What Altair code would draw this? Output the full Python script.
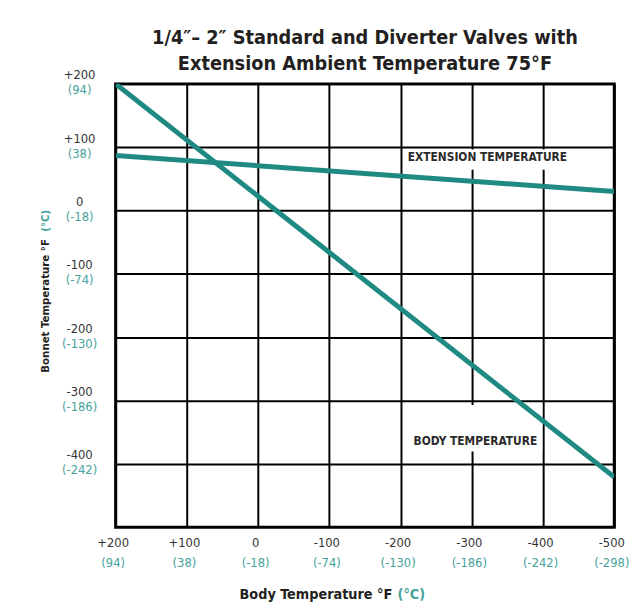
import altair as alt
import pandas as pd

# ---------------- data ----------------
x_ticks = [200, 100, 0, -100, -200, -300, -400, -500]
x_f_labels = ["+200", "+100", "0", "-100", "-200", "-300", "-400", "-500"]
x_c_labels = ["(94)", "(38)", "(-18)", "(-74)", "(-130)", "(-186)", "(-242)", "(-298)"]

y_ticks = [200, 100, 0, -100, -200, -300, -400]
y_f_labels = ["+200", "+100", "0", "-100", "-200", "-300", "-400"]
y_c_labels = ["(94)", "(38)", "(-18)", "(-74)", "(-130)", "(-186)", "(-242)"]

series_names = ["EXTENSION TEMPERATURE", "BODY TEMPERATURE"]
ext_body_x = [200, -500]
ext_bonnet_y = [87, 30]
body_body_x = [200, -500]
body_bonnet_y = [200, -421]

label_x = [-322, -305]
label_y = [84, -364]

title_lines = ["1/4\u2033\u2013 2\u2033 Standard and Diverter Valves with",
               "Extension Ambient Temperature 75\u00b0F"]

# ---------------- styling ----------------
FONT = "'DejaVu Sans Condensed', 'Liberation Sans Narrow', sans-serif"
TEAL = "#1f8a82"
TEAL_L = "#45a29b"
DARK = "#231f20"

lines_df = pd.DataFrame({
    "series": [series_names[0]] * len(ext_body_x) + [series_names[1]] * len(body_body_x),
    "body": ext_body_x + body_body_x,
    "bonnet": ext_bonnet_y + body_bonnet_y,
})
labels_df = pd.DataFrame({"text": series_names, "x": label_x, "y": label_y})

xscale = alt.Scale(domain=[200, -500], nice=False, zero=False)
yscale = alt.Scale(domain=[-500, 200], nice=False, zero=False)


def expr(labels, ticks):
    return f"{labels}[indexof({ticks}, datum.value)]"


common = dict(domain=False, ticks=False, labelFont=FONT, labelFontSize=13,
              labelOverlap=False, labelFlush=False, titleFont=FONT,
              titleFontWeight="bold")

x_axis_f = alt.Axis(orient="bottom", values=x_ticks, labelExpr=expr(x_f_labels, x_ticks),
                    grid=True, gridColor="black", gridWidth=2, gridOpacity=1,
                    labelColor="#333333", labelPadding=10, labelOffset=-3,
                    title="Body Temperature \u00b0F", titleFontSize=14.5, titleColor=DARK,
                    titleAlign="left", titleX=125, titleY=72, titleBaseline="alphabetic",
                    **common)
x_axis_c = alt.Axis(orient="bottom", values=x_ticks, labelExpr=expr(x_c_labels, x_ticks),
                    grid=False, labelColor=TEAL_L, labelPadding=30, labelOffset=-3,
                    title="(\u00b0C)", titleFontSize=14.5, titleColor=TEAL_L,
                    titleAlign="right", titleX=313, titleY=72, titleBaseline="alphabetic",
                    **common)
y_axis_f = alt.Axis(orient="left", values=y_ticks, labelExpr=expr(y_f_labels, y_ticks),
                    grid=True, gridColor="black", gridWidth=2, gridOpacity=1,
                    labelColor="#333333", labelPadding=37, labelAlign="center",
                    labelBaseline="middle", labelOffset=-9,
                    title="Bonnet Temperature \u00b0F", titleFontSize=11.5, titleColor=DARK,
                    titleAngle=270, titleAlign="left", titleX=-71, titleY=292,
                    titleBaseline="middle", **common)
y_axis_c = alt.Axis(orient="left", values=y_ticks, labelExpr=expr(y_c_labels, y_ticks),
                    grid=False, labelColor=TEAL_L, labelPadding=37, labelAlign="center",
                    labelBaseline="middle", labelOffset=6,
                    title="(\u00b0C)", titleFontSize=11.5, titleColor=TEAL_L,
                    titleAngle=270, titleAlign="right", titleX=-71, titleY=127,
                    titleBaseline="middle", **common)

# white boxes behind the line labels
box_ext = alt.Chart(labels_df.iloc[[0]]).mark_point(
    shape="M-0.98,-0.095L1.02,-0.095L1.02,0.15L-0.98,0.15Z",
    size=168 ** 2, filled=True, fill="white", opacity=1, strokeWidth=0,
).encode(
    x=alt.X("x:Q", scale=xscale, axis=x_axis_c),
    y=alt.Y("y:Q", scale=yscale, axis=y_axis_c),
)
box_body = alt.Chart(labels_df.iloc[[1]]).mark_point(
    shape="M-0.98,-0.55L1.02,-0.55L1.02,0.16L-0.98,0.16Z",
    size=133 ** 2, filled=True, fill="white", opacity=1, strokeWidth=0,
).encode(
    x=alt.X("x:Q", scale=xscale, axis=None),
    y=alt.Y("y:Q", scale=yscale, axis=None),
)

lines = alt.Chart(lines_df).mark_line(color=TEAL, strokeWidth=5, strokeCap="butt", clip=True).encode(
    x=alt.X("body:Q", scale=xscale, axis=x_axis_f),
    y=alt.Y("bonnet:Q", scale=yscale, axis=y_axis_f),
    detail="series:N",
)

texts = alt.Chart(labels_df).mark_text(
    font=FONT, fontWeight="bold", fontSize=12, color="#2b2b2b", baseline="middle", align="center",
).encode(
    x=alt.X("x:Q", scale=xscale, axis=None),
    y=alt.Y("y:Q", scale=yscale, axis=None),
    text="text:N",
)

chart = alt.layer(box_ext, box_body, lines, texts).resolve_axis(
    x="independent", y="independent"
).properties(
    width=505, height=449,
    padding={"left": 109, "top": 73, "right": 20, "bottom": 77},
    autosize=alt.AutoSizeParams(type="none"),
    background="white",
    title=alt.TitleParams(text=title_lines, font=FONT, fontSize=20, fontWeight="bold",
                          color=DARK, lineHeight=26, anchor="middle", frame="group",
                          offset=4, dy=9),
).configure_view(stroke="black", strokeWidth=3)

chart.save("out.html", embed_options={"renderer": "svg", "actions": False})
